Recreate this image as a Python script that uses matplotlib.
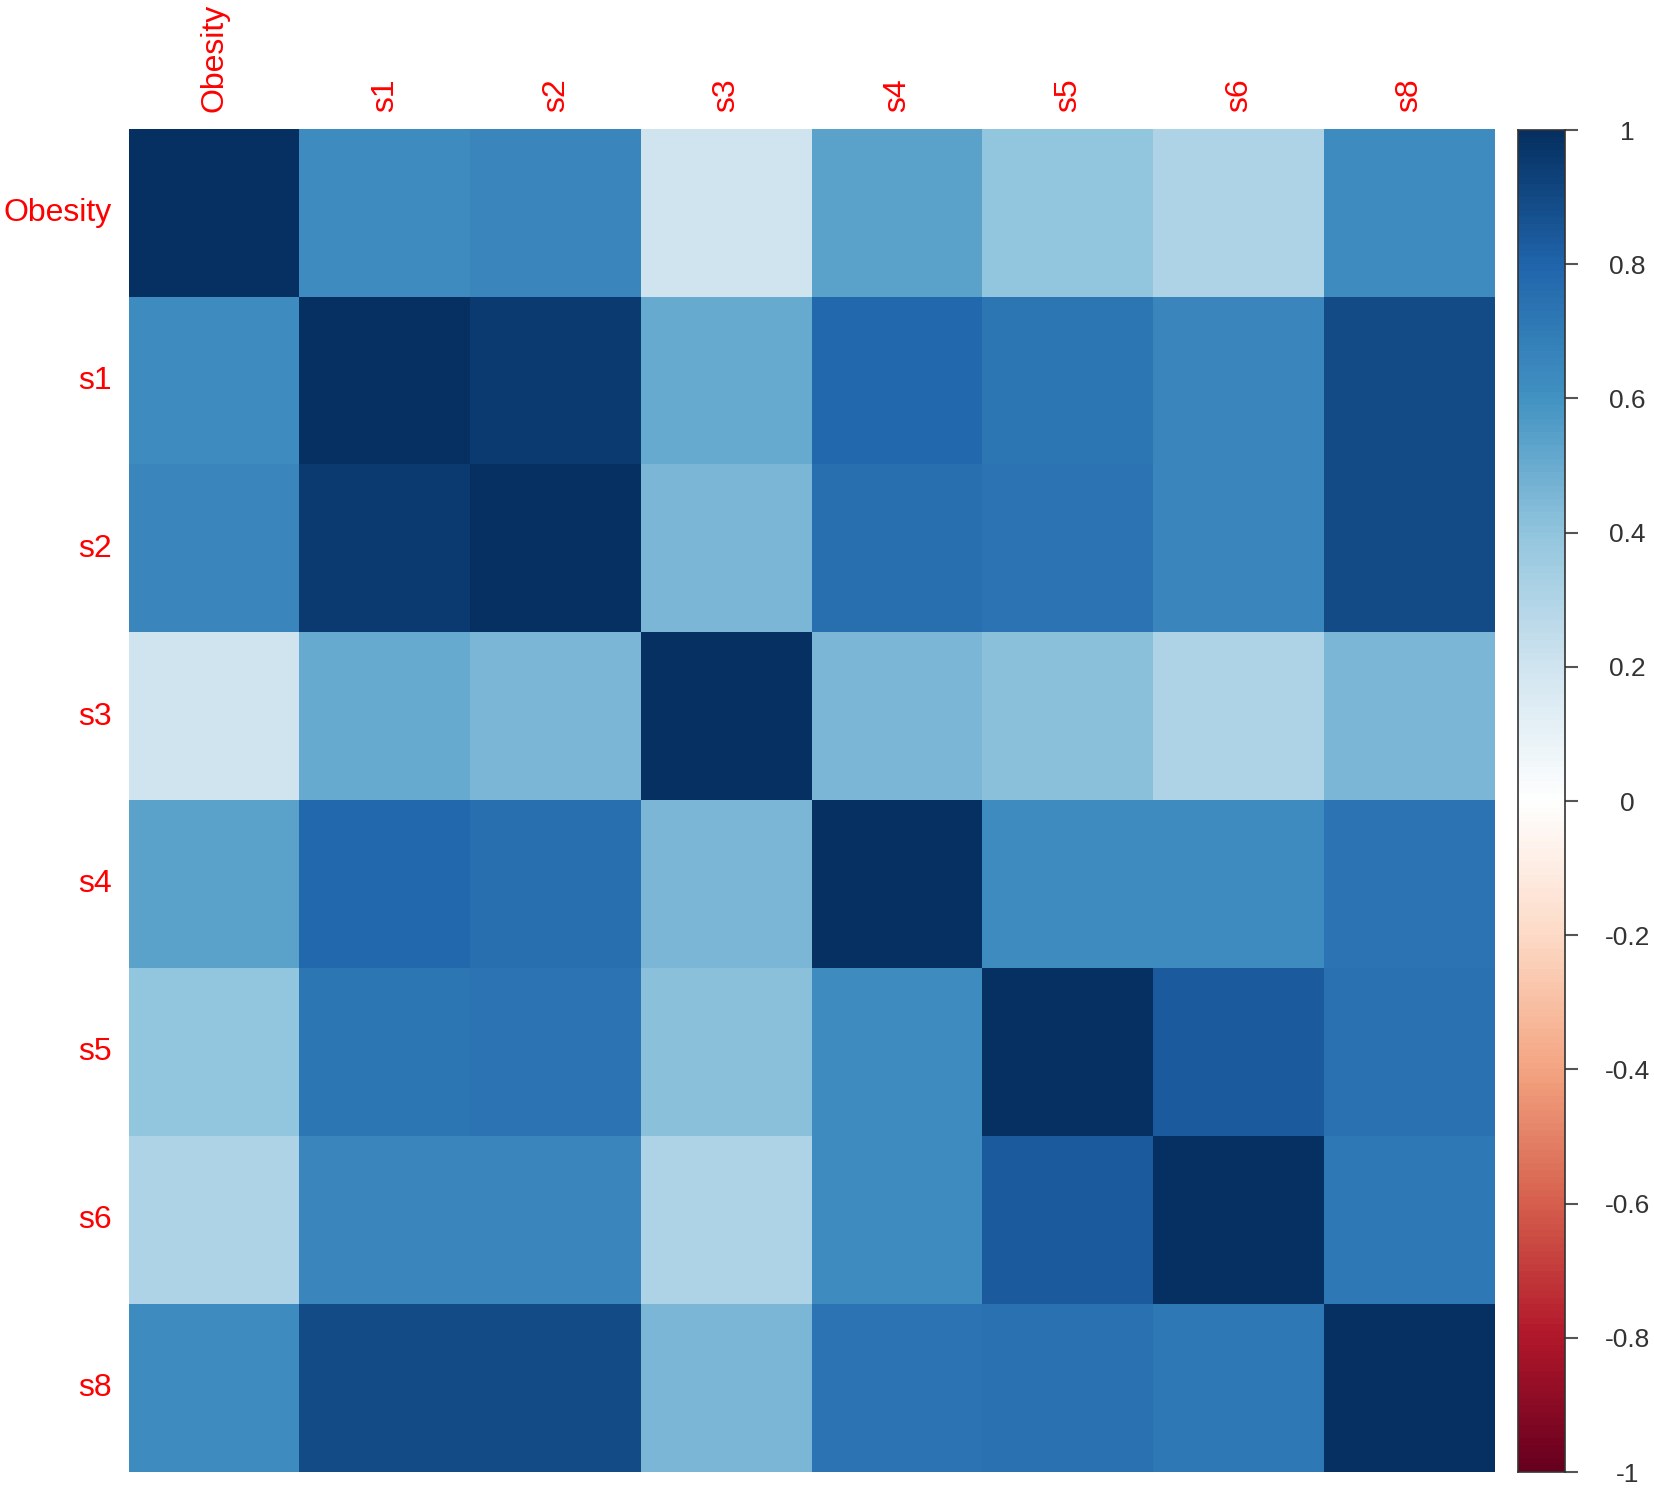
import numpy as np
import matplotlib
matplotlib.use("Agg")
import matplotlib.pyplot as plt
from matplotlib.colors import LinearSegmentedColormap

plt.rcParams["font.family"] = ["Liberation Sans", "DejaVu Sans"]

labels = ["Obesity", "s1", "s2", "s3", "s4", "s5", "s6", "s8"]

# upper triangle of the correlation matrix, row by row
upper = {
    ("Obesity", "s1"): 0.62, ("Obesity", "s2"): 0.65, ("Obesity", "s3"): 0.20,
    ("Obesity", "s4"): 0.53, ("Obesity", "s5"): 0.39, ("Obesity", "s6"): 0.30,
    ("Obesity", "s8"): 0.62,
    ("s1", "s2"): 0.95, ("s1", "s3"): 0.50, ("s1", "s4"): 0.78, ("s1", "s5"): 0.72,
    ("s1", "s6"): 0.65, ("s1", "s8"): 0.89,
    ("s2", "s3"): 0.45, ("s2", "s4"): 0.75, ("s2", "s5"): 0.73, ("s2", "s6"): 0.65,
    ("s2", "s8"): 0.89,
    ("s3", "s4"): 0.45, ("s3", "s5"): 0.41, ("s3", "s6"): 0.30, ("s3", "s8"): 0.45,
    ("s4", "s5"): 0.62, ("s4", "s6"): 0.62, ("s4", "s8"): 0.73,
    ("s5", "s6"): 0.83, ("s5", "s8"): 0.74,
    ("s6", "s8"): 0.71,
}

n = len(labels)
corr = np.eye(n)
for (a, b), v in upper.items():
    i, j = labels.index(a), labels.index(b)
    corr[i, j] = v
    corr[j, i] = v

# corrplot-like RdBu ramp with white in the middle
cmap = LinearSegmentedColormap.from_list("corr", [
    "#67001F", "#B2182B", "#D6604D", "#F4A582", "#FDDBC7", "#FFFFFF",
    "#D1E5F0", "#92C5DE", "#4393C3", "#2166AC", "#053061"], N=200)

W, H = 1654, 1495
fig = plt.figure(figsize=(W / 100, H / 100), dpi=100)

left, right, top, bottom = 129, 1495, 129, 1472
ax = fig.add_axes([left / W, 1 - bottom / H, (right - left) / W, (bottom - top) / H])
ax.imshow(corr, cmap=cmap, vmin=-1, vmax=1, aspect="auto",
          extent=(0, n, n, 0), interpolation="nearest")
ax.set_xlim(0, n)
ax.set_ylim(n, 0)
for s in ax.spines.values():
    s.set_visible(False)
ax.set_xticks([])
ax.set_yticks([])

red = "#FF0000"
for k, lab in enumerate(labels):
    ax.text(k + 0.5, -0.1, lab, rotation=90, ha="center", va="bottom",
            color=red, fontsize=23, transform=ax.transData)
    ax.text(-0.1, k + 0.5, lab, ha="right", va="center",
            color=red, fontsize=23, transform=ax.transData)

# colour legend
cl, cr, ct, cb = 1518, 1565, 130, 1472
cax = fig.add_axes([cl / W, 1 - cb / H, (cr - cl) / W, (cb - ct) / H])
grad = np.linspace(1, -1, 400).reshape(-1, 1)
cax.imshow(grad, cmap=cmap, vmin=-1, vmax=1, aspect="auto", extent=(0, 1, -1, 1))
cax.set_xticks([])
ticks = np.round(np.arange(-1, 1.01, 0.2), 1)
cax.yaxis.tick_right()
cax.set_yticks(ticks)
cax.set_yticklabels(["1" if t == 1 else "-1" if t == -1 else "0" if t == 0 else f"{t:g}"
                     for t in ticks])
cax.tick_params(axis="y", length=9, width=1.5, color="#555555", pad=36,
                labelsize=19, labelcolor="#333333")
for lab in cax.get_yticklabels():
    lab.set_ha("center")
for s in cax.spines.values():
    s.set_color("#333333")
    s.set_linewidth(1.2)

fig.savefig("out.png", dpi=100)
